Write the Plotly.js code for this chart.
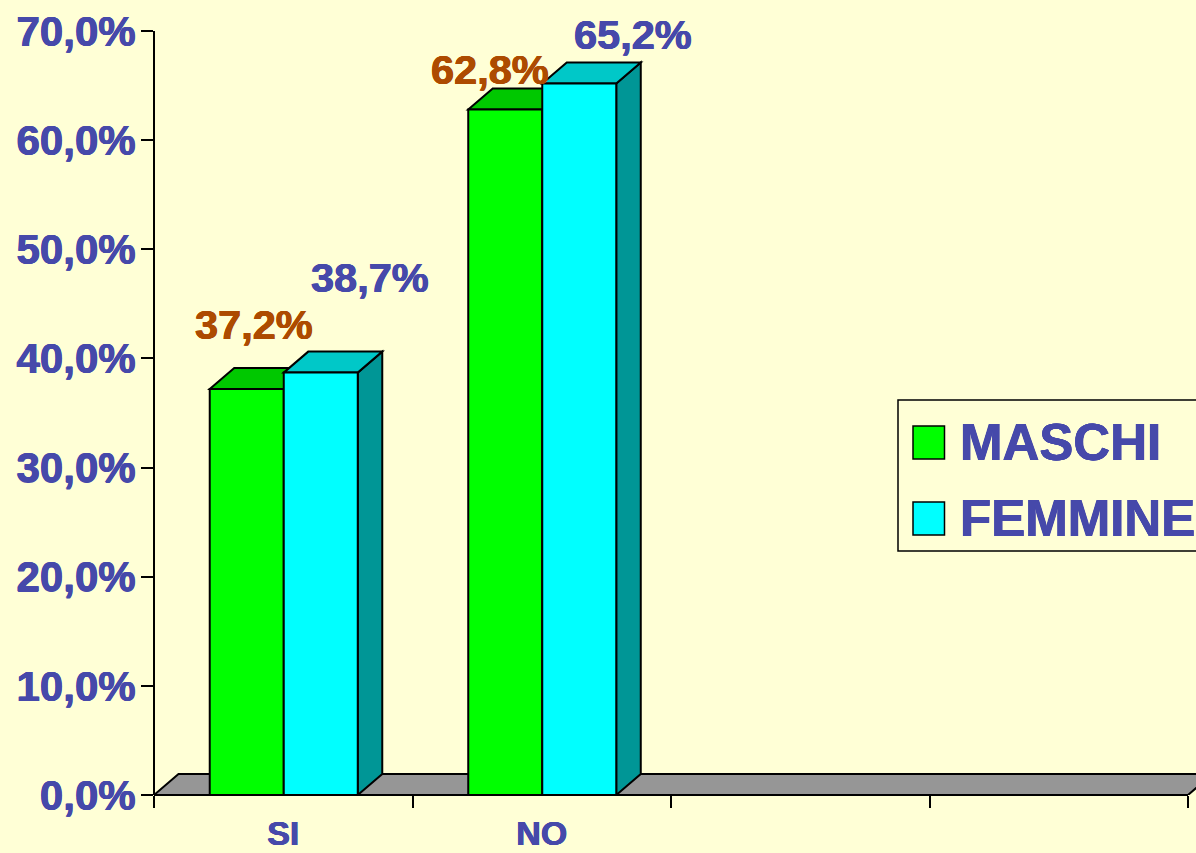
<!DOCTYPE html>
<html>
<head>
<meta charset="utf-8">
<script src="https://cdn.plot.ly/plotly-3.0.1.min.js"></script>
<style>html,body{margin:0;padding:0;background:#ffffd6;overflow:hidden}</style>
</head>
<body>
<div id="chart" style="width:1196px;height:853px"></div>
<script>
// Data
const categories = ["SI", "NO", " ", "  "];
const maschi = [37.2, 62.8, null, null];
const femmine = [38.7, 65.2, null, null];
const seriesNames = ["MASCHI", "FEMMINE"];

// Style
const BG = "#ffffd6", BLUE = "#4649aa", ORANGE = "#ad4b00";
const FONT = "Liberation Sans, Arial, sans-serif";
const W = 1196, H = 853, L = 154, T = 0, B = 58, R = 0;
const catPx = 258.5, plotH = H - T - B, axisTop = 70, pxPerUnit = 764 / axisTop;
const yMax = plotH / pxPerUnit;
const dx = 24.5 / catPx, dy = 21 / pxPerUnit;
const halfGroup = 0.2863, barShift = 0.5 / catPx;
const xMin = -0.5, xEnd = 3.5, xMax = xMin + (W - L - R) / catPx;

const colours = [
  {front: "#00ff00", top: "#00c800", side: "#009600"},
  {front: "#00ffff", top: "#00c8c8", side: "#009696"}
];
const labelColours = [ORANGE, BLUE];
const labelShiftX = [[7, -15], [49, 54]];
const labelShiftY = [[64, 40], [95, 49]];
const heavy = (c) => `0.5px 0 0 ${c}, -0.4px 0 0 ${c}, 0 0.3px 0 ${c}`;

const poly = (pts) => "M" + pts.map(p => p[0] + "," + p[1]).join("L") + "Z";
const faceLine = {color: "#000", width: 2};
const shapes = [];
const barLeft = (i, s) => i - halfGroup + s * halfGroup + barShift;

// floor
shapes.push({type: "path", xref: "x", yref: "y", layer: "below", fillcolor: "#969696", line: faceLine,
  path: poly([[xMin, 0], [xMin + dx, dy], [xEnd + dx, dy], [xEnd, 0]])});

// top and side faces of the bars, computed from the values
[maschi, femmine].forEach((vals, s) => {
  vals.forEach((v, i) => {
    if (v === null) return;
    const x0 = barLeft(i, s), x1 = x0 + halfGroup;
    shapes.push({type: "path", xref: "x", yref: "y", layer: "below", fillcolor: colours[s].side, line: faceLine,
      path: poly([[x1, 0], [x1 + dx, dy], [x1 + dx, v + dy], [x1, v]])});
    shapes.push({type: "path", xref: "x", yref: "y", layer: "below", fillcolor: colours[s].top, line: faceLine,
      path: poly([[x0, v], [x0 + dx, v + dy], [x1 + dx, v + dy], [x1, v]])});
  });
});

// axis lines stop at the last tick
shapes.push({type: "line", xref: "paper", yref: "y", x0: 0, x1: 0, y0: 0, y1: axisTop, line: {color: "#000", width: 2}});
shapes.push({type: "line", xref: "x", yref: "paper", x0: xMin, x1: xEnd, y0: 0, y1: 0, line: {color: "#000", width: 2}});

// legend box, in paper coordinates
const px = (p) => (p - L) / (W - L - R);
const py = (p) => 1 - (p - T) / plotH;
shapes.push({type: "rect", xref: "paper", yref: "paper", x0: px(898), x1: px(1260), y0: py(551), y1: py(400),
  fillcolor: BG, line: {color: "#000", width: 1.5}, layer: "above"});
const legendY = [442, 518];
seriesNames.forEach((n, s) => {
  shapes.push({type: "rect", xref: "paper", yref: "paper", x0: px(913), x1: px(944.5),
    y0: py(legendY[s] + 17), y1: py(legendY[s] - 16), fillcolor: colours[s].front, line: {color: "#000", width: 1.5}, layer: "above"});
});

const annotations = [];
const fmt = (v) => v.toFixed(1).replace(".", ",") + "%";
[maschi, femmine].forEach((vals, s) => {
  vals.forEach((v, i) => {
    if (v === null) return;
    annotations.push({
      x: barLeft(i, s) + halfGroup / 2, y: v, xref: "x", yref: "y",
      text: "<b>" + fmt(v) + "</b>", showarrow: false, xanchor: "center", yanchor: "middle",
      xshift: labelShiftX[s][i], yshift: labelShiftY[s][i],
      font: {family: FONT, size: 41.5, color: labelColours[s], shadow: heavy(labelColours[s])}
    });
  });
});
seriesNames.forEach((n, s) => {
  annotations.push({
    x: px(961), y: py(legendY[s]), xref: "paper", yref: "paper", text: "<b>" + n + "</b>",
    showarrow: false, xanchor: "left", yanchor: "middle", xshift: -3,
    font: {family: FONT, size: 51, color: BLUE, shadow: heavy(BLUE)}
  });
});

const mk = (name, y, s) => ({
  type: "bar", name, x: categories, y,
  width: halfGroup, offset: -halfGroup + s * halfGroup + barShift,
  marker: {color: colours[s].front, line: {color: "#000", width: 2}},
  hoverinfo: "skip"
});

Plotly.newPlot("chart", [mk(seriesNames[0], maschi, 0), mk(seriesNames[1], femmine, 1)], {
  width: W, height: H,
  margin: {l: L, r: R, t: T, b: B, pad: 0},
  paper_bgcolor: BG, plot_bgcolor: BG,
  barmode: "overlay",
  showlegend: false,
  separators: ",.",
  font: {family: FONT, color: BLUE},
  xaxis: {
    type: "category", categoryorder: "array", categoryarray: categories,
    range: [xMin, xMax], tickson: "boundaries", ticks: "outside", ticklen: 12, tickwidth: 2, tickcolor: "#000",
    showline: false, showgrid: false, zeroline: false, ticklabelstandoff: 15,
    tickfont: {family: FONT, size: 34, color: BLUE, shadow: heavy(BLUE)}, tickprefix: "<b>", ticksuffix: "</b>"
  },
  yaxis: {
    range: [0, yMax], tickmode: "array", tickvals: [0, 10, 20, 30, 40, 50, 60, 70],
    ticktext: [0, 10, 20, 30, 40, 50, 60, 70].map(v => "<b>" + fmt(v) + "</b>"),
    ticks: "outside", ticklen: 12, tickwidth: 2, tickcolor: "#000",
    showline: false, showgrid: false, zeroline: false, ticklabelstandoff: -3,
    tickfont: {family: FONT, size: 42, color: BLUE, shadow: heavy(BLUE)}
  },
  shapes, annotations
}, {displayModeBar: false, staticPlot: true});
</script>
</body>
</html>
